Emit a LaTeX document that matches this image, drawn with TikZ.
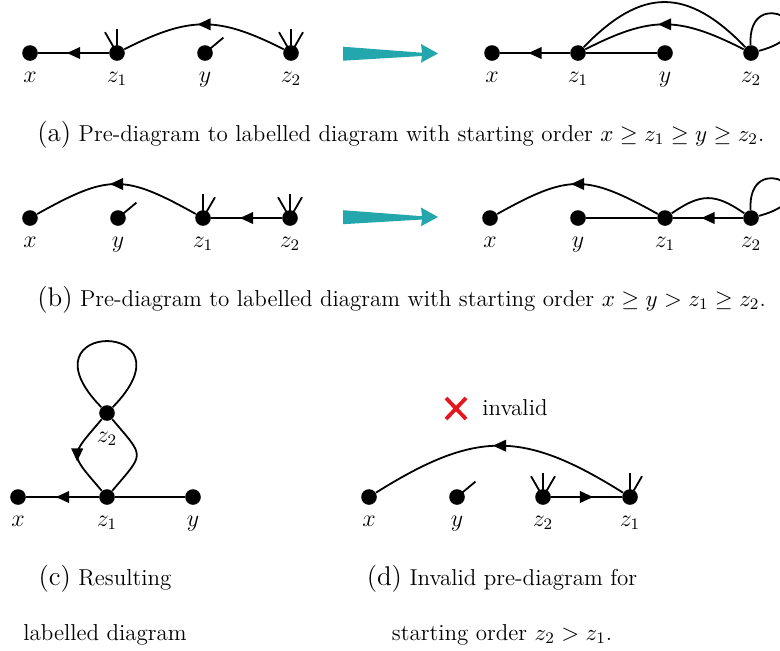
\RequirePackage{fix-cm}
\documentclass[tikz,border=0pt]{standalone}
\usetikzlibrary{arrows.meta,decorations.markings}
\definecolor{tealarrow}{RGB}{36,166,173}
\definecolor{xred}{RGB}{228,22,30}
\newcommand\vtx[3]{\node[dot] (#1) at (#2) {};\node[lab] (#1-l) at ([yshift=-14.5pt]#1.center) {$#3$};}
\newcommand\lblfont{\fontsize{13.5}{16}\selectfont}
\newcommand\txtfont{\fontsize{11.5}{14}\selectfont}
\tikzset{
  dot/.style={circle,fill=black,inner sep=0pt,minimum size=7.8pt},
  lab/.style={anchor=base,inner sep=0pt,font=\fontsize{12}{14}\selectfont},
  edge/.style={line width=0.9pt},
  midarrow/.style={postaction={decorate},decoration={markings,mark=at position 0.5 with {\arrow[xshift=3.3pt]{Triangle[length=6.6pt,width=5.8pt]}}}},
  captxt/.style={inner sep=0pt,font=\txtfont},
  bigarrow/.style={fill=tealarrow,draw=none},
}
\begin{document}
\begin{tikzpicture}[x=0.5pt,y=-0.5pt]
\clip (0,0) rectangle (780,650);
% ---------- (a) left
\vtx{xa}{30,53}{x}
\vtx{z1a}{117,53}{z_1}
\vtx{ya}{205,53}{y}
\vtx{z2a}{291,53}{z_2}
\draw[edge,midarrow] (z1a) -- (xa);
\draw[edge,midarrow] (z2a) .. controls +(-73,-37) and +(73,-37) .. (z1a);
\draw[edge] (z1a.center) -- +(-12,-20.8) (z1a.center) -- +(0,-24);
\draw[edge] (ya.center) -- +(18.4,-15.4);
\draw[edge] (z2a.center) -- +(-12,-20.8) (z2a.center) -- +(0,-24) (z2a.center) -- +(12,-20.8);
% teal arrow (a)
\fill[bigarrow] (343,46.7) -- (422,52.7) -- (421,44) -- (438,53.5) -- (421,62.7) -- (422,56) -- (343,60.7) -- cycle;
% ---------- (a) right
\vtx{xb}{492,53}{x}
\vtx{z1b}{578,53}{z_1}
\vtx{yb}{665,53}{y}
\vtx{z2b}{751,53}{z_2}
\draw[edge,midarrow] (z1b) -- (xb);
\draw[edge] (z1b) -- (yb);
\draw[edge,midarrow] (z2b) .. controls +(-73,-37) and +(73,-37) .. (z1b);
\draw[edge] (z2b) .. controls +(-64,-66) and +(64,-66) .. (z1b);
\draw[edge] (z2b) .. controls +(-4,-72) and +(85,-23) .. (z2b);
% caption (a)
\node[captxt,anchor=base west] (capa) at (37,141) {{\lblfont(a)} Pre-diagram to labelled diagram with starting order $x\geq z_1\geq y\geq z_2$.};
% ---------- (b) left
\vtx{xc}{30,218}{x}
\vtx{yc}{118,218}{y}
\vtx{z1c}{203,218}{z_1}
\vtx{z2c}{290,218}{z_2}
\draw[edge,midarrow] (z2c) -- (z1c);
\draw[edge,midarrow] (z1c) .. controls +(-79,-44) and +(79,-44) .. (xc);
\draw[edge] (yc.center) -- +(18.4,-15.4);
\draw[edge] (z1c.center) -- +(0,-24) (z1c.center) -- +(12,-20.8);
\draw[edge] (z2c.center) -- +(-12,-20.8) (z2c.center) -- +(0,-24) (z2c.center) -- +(12,-20.8);
% teal arrow (b)
\fill[bigarrow] (343,210.2) -- (422,216.2) -- (421,207.5) -- (438,217) -- (421,226.2) -- (422,219.5) -- (343,224.2) -- cycle;
% ---------- (b) right
\vtx{xd}{490,218}{x}
\vtx{yd}{578,218}{y}
\vtx{z1d}{665,218}{z_1}
\vtx{z2d}{751,218}{z_2}
\draw[edge] (yd) -- (z1d);
\draw[edge,midarrow] (z2d) -- (z1d);
\draw[edge,midarrow] (z1d) .. controls +(-79,-44) and +(79,-44) .. (xd);
\draw[edge] (z1d) .. controls +(36,-25) and +(-36,-25) .. (z2d);
\draw[edge] (z2d) .. controls +(-4,-72) and +(85,-23) .. (z2d);
% caption (b)
\node[captxt,anchor=base west] (capb) at (37,306) {{\lblfont(b)} Pre-diagram to labelled diagram with starting order $x\geq y> z_1\geq z_2$.};
% ---------- (c)
\vtx{xe}{18,497}{x}
\vtx{z1e}{107,497}{z_1}
\vtx{ye}{193,497}{y}
\vtx{z2e}{107,413}{z_2}
\draw[edge,midarrow] (z1e) -- (xe);
\draw[edge] (z1e) -- (ye);
\draw[edge] (z2e) .. controls +(-92,-94) and +(92,-94) .. (z2e);
\draw[edge,midarrow] (z2e) .. controls +(-38,45) and +(-38,-45) .. (z1e);
\draw[edge] (z2e) .. controls +(38,45) and +(38,-45) .. (z1e);
\node[captxt,anchor=base] (capc1) at (105,585) {{\lblfont(c)} Resulting};
\node[captxt,anchor=base] (capc2) at (105,640) {labelled diagram};
% ---------- (d)
\vtx{xf}{369,497}{x}
\vtx{yf}{457,497}{y}
\vtx{z2f}{543,497}{z_2}
\vtx{z1f}{630,497}{z_1}
\draw[edge,midarrow] (z2f) -- (z1f);
\draw[edge,midarrow] (z1f) .. controls +(-107,-67) and +(107,-67) .. (xf);
\draw[edge] (yf.center) -- +(18.4,-15.4);
\draw[edge] (z2f.center) -- +(-12,-20.8) (z2f.center) -- +(0,-24) (z2f.center) -- +(12,-20.8);
\draw[edge] (z1f.center) -- +(0,-24) (z1f.center) -- +(12,-20.8);
\draw[xred,line width=1.9pt] (446,398) -- (466,419) (446,419) -- (466,398);
\node[captxt,anchor=base west] (inv) at (482,415) {invalid};
\node[captxt,anchor=base] (capd1) at (502,585) {{\lblfont(d)} Invalid pre-diagram for};
\node[captxt,anchor=base] (capd2) at (502,640) {starting order $z_2>z_1$.};
\end{tikzpicture}
\end{document}
